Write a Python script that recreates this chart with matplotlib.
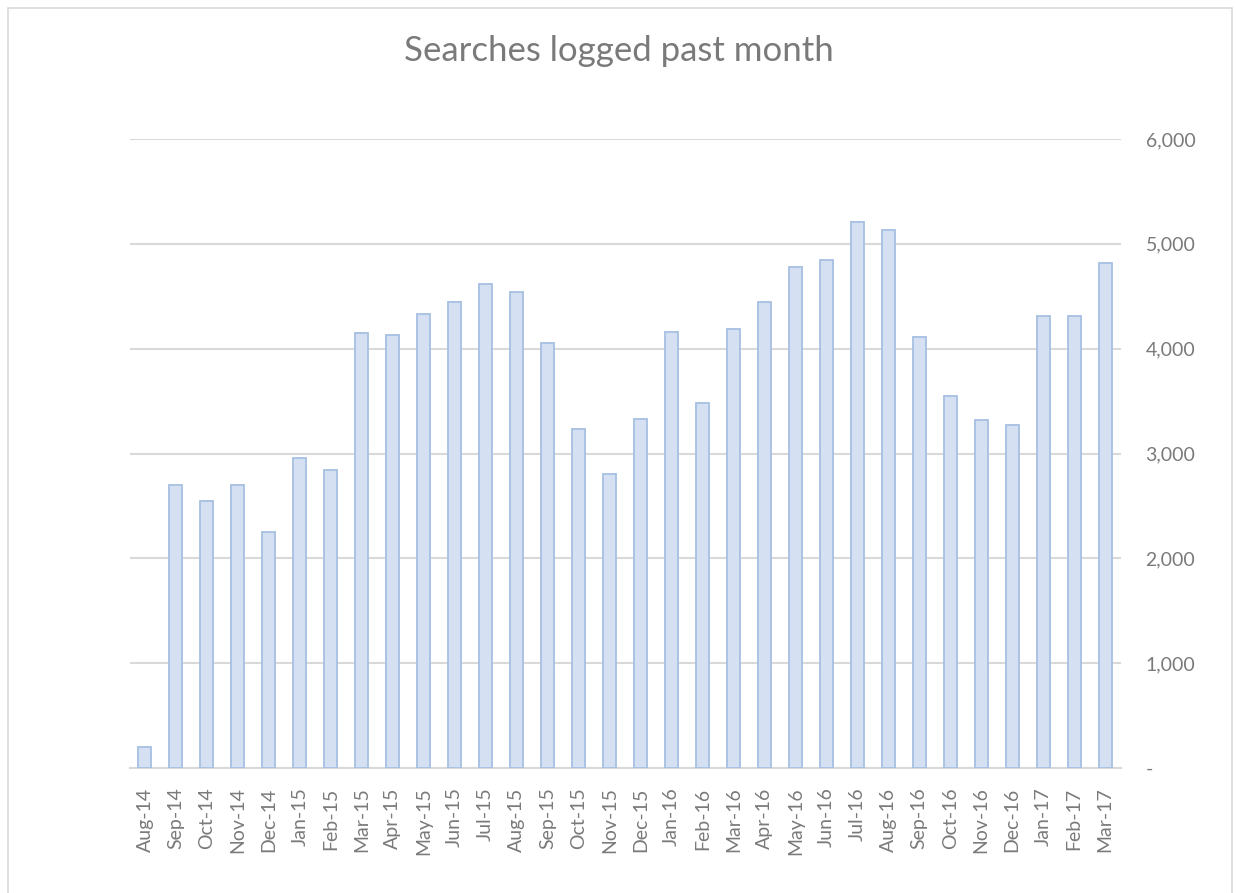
import numpy as np
import matplotlib
matplotlib.use('Agg')
import matplotlib.pyplot as plt
from matplotlib.patches import Rectangle
from matplotlib.ticker import FuncFormatter

# Meses y busquedas registradas
months = ['Aug-14', 'Sep-14', 'Oct-14', 'Nov-14', 'Dec-14', 'Jan-15', 'Feb-15', 'Mar-15',
          'Apr-15', 'May-15', 'Jun-15', 'Jul-15', 'Aug-15', 'Sep-15', 'Oct-15', 'Nov-15',
          'Dec-15', 'Jan-16', 'Feb-16', 'Mar-16', 'Apr-16', 'May-16', 'Jun-16', 'Jul-16',
          'Aug-16', 'Sep-16', 'Oct-16', 'Nov-16', 'Dec-16', 'Jan-17', 'Feb-17', 'Mar-17']
searches = [200, 2700, 2550, 2700, 2250, 2960, 2845, 4150,
            4130, 4330, 4447, 4620, 4542, 4055, 3235, 2805,
            3330, 4160, 3483, 4189, 4447, 4780, 4847, 5210,
            5134, 4113, 3550, 3320, 3273, 4313, 4313, 4818]
yticks = [0, 1000, 2000, 3000, 4000, 5000, 6000]

grey = '#7a7a7a'
grid_c = '#d9d9d9'

plt.rcParams['font.family'] = ['Lato', 'DejaVu Sans']

fig = plt.figure(figsize=(12.36, 8.93), dpi=100)

# Marco del grafico
fig.patches.append(Rectangle((8/1236, -0.01), (1232-8)/1236, (893-8)/893 + 0.01,
                             transform=fig.transFigure, fill=False,
                             edgecolor=grid_c, linewidth=1.2))

ax = fig.add_axes([129.5/1236, (893-768)/893, 991/1236, (768-139)/893])
x = np.arange(len(months))
ax.bar(x, searches, width=0.42, color='#d5e1f2', edgecolor='#a6bfe2', linewidth=1.3, zorder=3)

ax.set_xlim(-0.5, len(months) - 0.5)
ax.set_ylim(0, 6000)
ax.set_yticks(yticks)
ax.yaxis.set_major_formatter(FuncFormatter(lambda v, p: '-' if v == 0 else f'{int(v):,}'))
ax.yaxis.tick_right()
ax.grid(axis='y', color=grid_c, linewidth=1.5, zorder=0)
ax.set_axisbelow(True)

for s in ['top', 'left', 'right']:
    ax.spines[s].set_visible(False)
ax.spines['bottom'].set_color(grid_c)
ax.spines['bottom'].set_linewidth(1.5)

ax.set_xticks(x)
ax.set_xticklabels(months, rotation=90, fontsize=14, color=grey)
ax.tick_params(axis='x', length=0, pad=14)
ax.tick_params(axis='y', length=0, pad=18, labelsize=14, labelcolor=grey)

fig.text(619/1236, 1 - 61/893, 'Searches logged past month', ha='center', va='baseline',
         fontsize=25, color=grey)

fig.savefig('out.png', dpi=100)
